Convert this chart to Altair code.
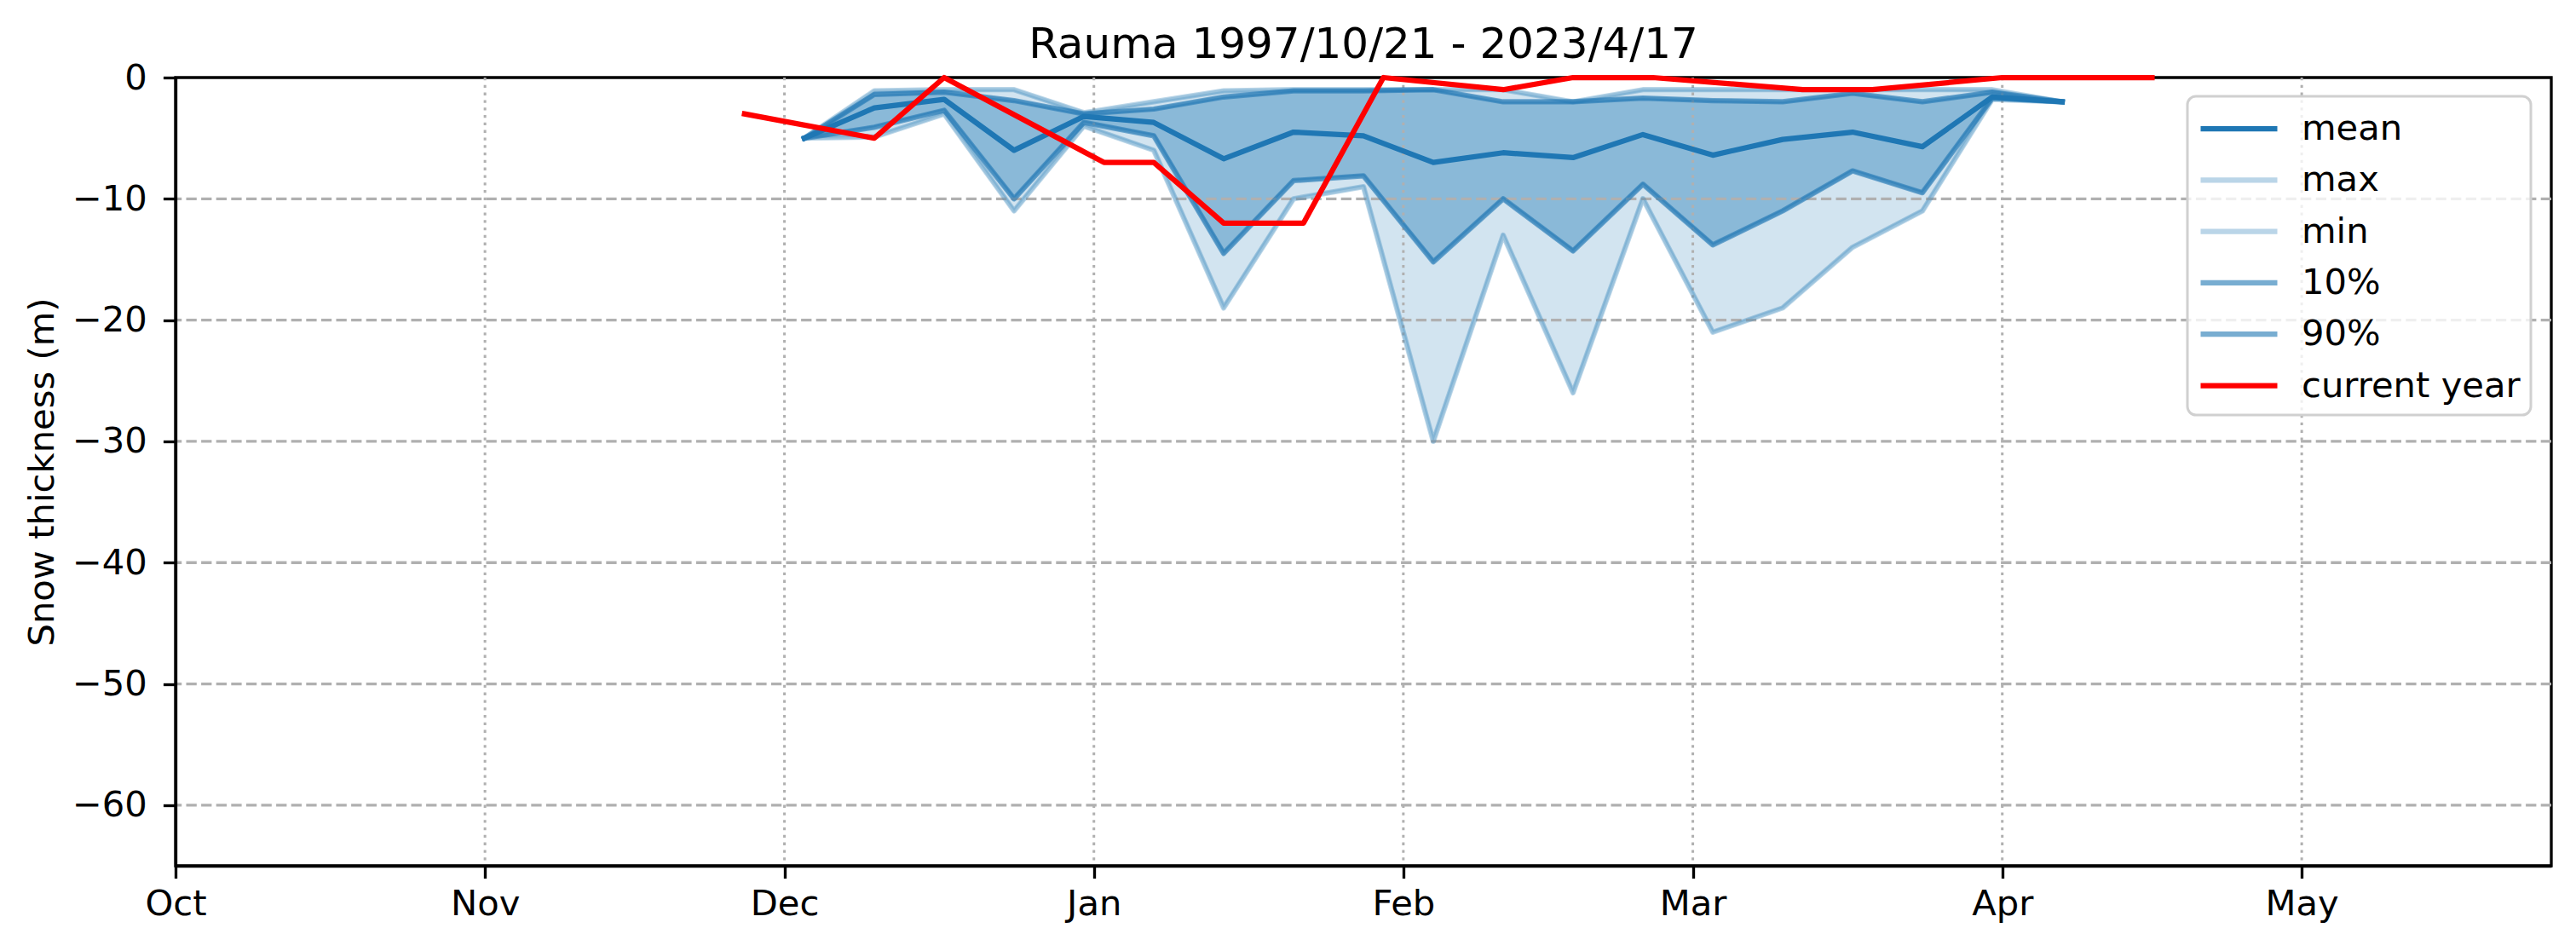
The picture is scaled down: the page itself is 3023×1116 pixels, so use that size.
import altair as alt
import pandas as pd

# ---- data ----
stat_dates = ["2023-12-03", "2023-12-10", "2023-12-17", "2023-12-24", "2023-12-31",
              "2024-01-07", "2024-01-14", "2024-01-21", "2024-01-28", "2024-02-04",
              "2024-02-11", "2024-02-18", "2024-02-25", "2024-03-03", "2024-03-10",
              "2024-03-17", "2024-03-24", "2024-03-31", "2024-04-07"]
max_vals = [-5.0, -1.1, -1.0, -1.0, -2.9, -2.0, -1.1, -1.0, -1.0, -1.0,
            -1.0, -2.0, -1.0, -1.0, -1.0, -1.0, -1.0, -1.0, -2.0]
p90_vals = [-5.0, -1.4, -1.2, -1.9, -3.0, -2.6, -1.6, -1.1, -1.1, -1.0,
            -2.0, -2.0, -1.7, -1.9, -2.0, -1.3, -2.0, -1.2, -2.0]
mean_vals = [-5.0, -2.5, -1.8, -6.0, -3.2, -3.7, -6.7, -4.5, -4.8, -7.0,
             -6.2, -6.6, -4.7, -6.4, -5.1, -4.5, -5.7, -1.6, -2.0]
p10_vals = [-5.0, -4.1, -2.7, -10.0, -3.7, -4.8, -14.5, -8.5, -8.1, -15.2,
            -10.0, -14.3, -8.8, -13.8, -11.0, -7.7, -9.5, -1.7, -2.0]
min_vals = [-5.0, -4.9, -3.0, -11.0, -4.0, -6.0, -19.0, -10.0, -9.0, -30.0,
            -13.0, -26.0, -10.0, -21.0, -19.0, -14.0, -11.0, -1.8, -2.0]

cur_dates = ["2023-11-27", "2023-12-10", "2023-12-17", "2024-01-02", "2024-01-07",
             "2024-01-14", "2024-01-22", "2024-01-30", "2024-02-11", "2024-02-18",
             "2024-02-26", "2024-03-12", "2024-03-19", "2024-04-01", "2024-04-16"]
cur_vals = [-3, -5, 0, -7, -7, -12, -12, 0, -1, 0, 0, -1, -1, 0, 0]

y_ticks = [-60, -50, -40, -30, -20, -10, 0]
month_ticks = ["2023-10-01", "2023-11-01", "2023-12-01", "2024-01-01",
               "2024-02-01", "2024-03-01", "2024-04-01", "2024-05-01"]
series_names = ["mean", "max", "min", "10%", "90%", "current year"]
series_colors = ["#1f77b4", "#1f77b4", "#1f77b4", "#1f77b4", "#1f77b4", "#ff0000"]
series_alpha = [1.0, 0.3, 0.3, 0.6, 0.6, 1.0]

FONT = "DejaVu Sans"
FS = 41.7
LW = 6.25
SPINE = 3.33

# ---- tables ----
band = pd.DataFrame({"date": stat_dates, "max": max_vals, "min": min_vals,
                     "p10": p10_vals, "p90": p90_vals})
stat_long = pd.concat([
    pd.DataFrame({"date": stat_dates, "value": max_vals, "series": "max"}),
    pd.DataFrame({"date": stat_dates, "value": min_vals, "series": "min"}),
    pd.DataFrame({"date": stat_dates, "value": p10_vals, "series": "10%"}),
    pd.DataFrame({"date": stat_dates, "value": p90_vals, "series": "90%"}),
    pd.DataFrame({"date": stat_dates, "value": mean_vals, "series": "mean"}),
], ignore_index=True)
cur = pd.DataFrame({"date": cur_dates, "value": cur_vals, "series": "current year"})
ygrid = pd.DataFrame({"v": [v for v in y_ticks if v < 0]})
xgrid = pd.DataFrame({"date": month_ticks[1:]})

x_domain = [alt.DateTime(year=2023, month=10, date=1, utc=True),
            alt.DateTime(year=2024, month=5, date=26, utc=True)]
x_values = [alt.DateTime(year=int(d[:4]), month=int(d[5:7]), date=1, utc=True) for d in month_ticks]

x_scale = alt.Scale(type="utc", domain=x_domain, nice=False)
y_scale = alt.Scale(domain=[-65, 0], nice=False, zero=False)

x_enc = alt.X("date:T", scale=x_scale,
              axis=alt.Axis(values=x_values, labelExpr="utcFormat(datum.value, '%b')",
                            title=None, grid=False, zindex=1,
                            labelFontSize=FS, labelFont=FONT, labelColor="black",
                            labelPadding=10, tickSize=14.6, tickWidth=SPINE, tickColor="black",
                            domainColor="black", domainWidth=SPINE, labelFlush=False,
                            labelOverlap=False, labelLimit=300))
y_axis = alt.Axis(values=y_ticks, grid=False, title="Snow thickness (m)", zindex=1,
                  titleFontSize=FS, titleFont=FONT, titleFontWeight="normal", titleColor="black",
                  titleX=-144, titleY=462.5, titleAngle=270, titleAlign="center",
                  titleBaseline="alphabetic",
                  labelFontSize=FS, labelFont=FONT, labelColor="black", labelPadding=19,
                  tickSize=14.6, tickWidth=SPINE, tickColor="black",
                  domainColor="black", domainWidth=SPINE, labelFlush=False, labelOverlap=False)

color_enc = alt.Color("series:N",
                      scale=alt.Scale(domain=series_names, range=series_colors),
                      legend=alt.Legend(title=None, orient="none", legendX=2361, legendY=22,
                                        padding=12, rowPadding=12.3,
                                        symbolType="M-1,0H3", symbolSize=2025,
                                        symbolStrokeWidth=LW, labelOffset=70,
                                        labelFontSize=FS, labelFont=FONT, labelColor="black",
                                        labelLimit=500,
                                        fillColor="rgba(255,255,255,0.8)",
                                        strokeColor="#d0d0d0", cornerRadius=10))
opacity_enc = alt.Opacity("series:N",
                          scale=alt.Scale(type="ordinal", domain=series_names,
                                          range=series_alpha))

outer = alt.Chart(band).mark_area(color="#1f77b4", fillOpacity=0.2, stroke="#1f77b4",
                                  strokeOpacity=0.2, strokeWidth=4.17,
                                  strokeJoin="round").encode(
    x=x_enc, y=alt.Y("min:Q", scale=y_scale, axis=y_axis), y2="max:Q")
inner = alt.Chart(band).mark_area(color="#1f77b4", fillOpacity=0.4, stroke="#1f77b4",
                                  strokeOpacity=0.4, strokeWidth=4.17,
                                  strokeJoin="round").encode(
    x="date:T", y="p10:Q", y2="p90:Q")

grid_x = alt.Chart(xgrid).mark_rule(color="#b0b0b0", strokeWidth=3.0,
                                    strokeDash=[3.3, 5.5]).encode(x="date:T")
grid_y = alt.Chart(ygrid).mark_rule(color="#b0b0b0", strokeWidth=3.3,
                                    strokeDash=[12.3, 5.3]).encode(y="v:Q")

stat_lines = alt.Chart(stat_long).mark_line(strokeWidth=LW, strokeJoin="round",
                                            strokeCap="square").encode(
    x="date:T", y="value:Q", color=color_enc, opacity=opacity_enc,
    detail="series:N")
cur_line = alt.Chart(cur).mark_line(strokeWidth=LW, strokeJoin="round",
                                    strokeCap="square").encode(
    x="date:T", y="value:Q", color=color_enc, opacity=opacity_enc)

chart = alt.layer(outer, inner, grid_x, grid_y, stat_lines, cur_line).properties(
    width=2788, height=925,
    autosize=alt.AutoSizeParams(type="none"),
    padding={"left": 206, "top": 91, "right": 29, "bottom": 100},
    title=alt.TitleParams("Rauma 1997/10/21 - 2023/4/17", fontSize=50, font=FONT,
                          fontWeight="normal", color="black", anchor="middle",
                          frame="group", baseline="alphabetic", offset=4, dy=51),
).configure_view(stroke="black", strokeWidth=SPINE).configure_legend(strokeWidth=3)

chart.save("out.html", embed_options={"renderer": "svg", "actions": False})
